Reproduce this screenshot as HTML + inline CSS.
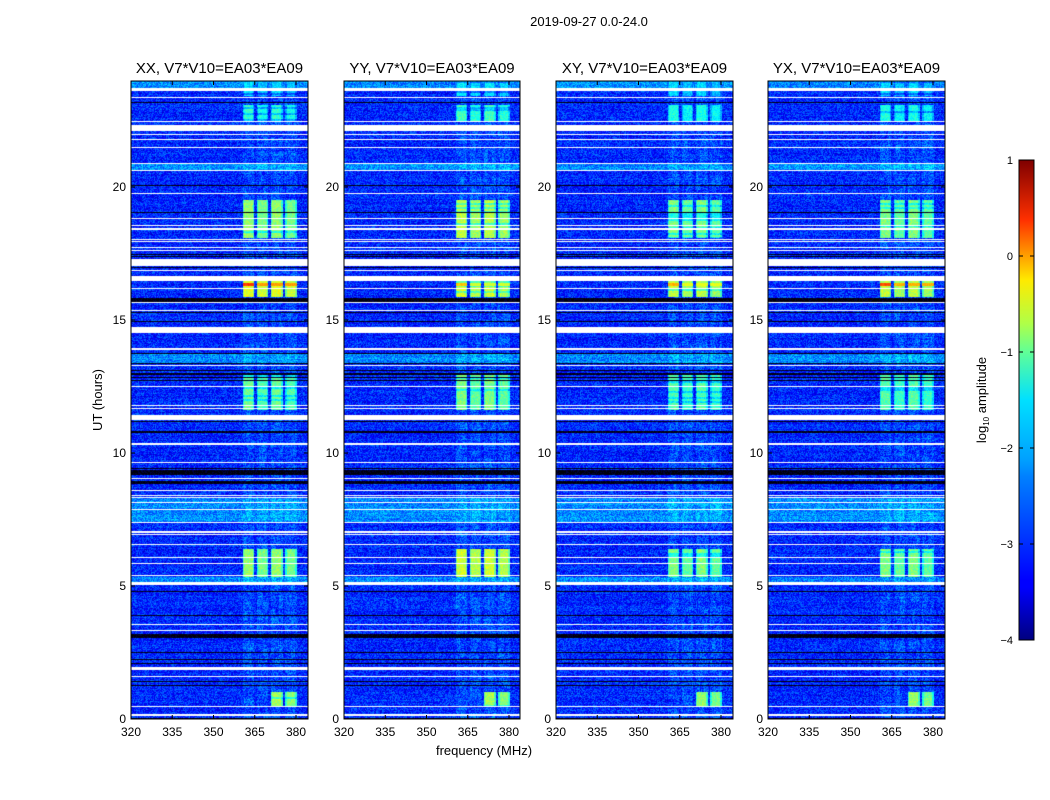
<!DOCTYPE html>
<html><head><meta charset="utf-8"><style>
body{margin:0;background:#fff;width:1050px;height:800px;overflow:hidden;font-family:"Liberation Sans",sans-serif;}
svg{position:absolute;left:0;top:0}
canvas{position:absolute}
</style></head><body>
<canvas id="c0" width="177" height="638" style="left:131px;top:81px"></canvas>
<canvas id="c1" width="176" height="638" style="left:344px;top:81px"></canvas>
<canvas id="c2" width="177" height="638" style="left:556px;top:81px"></canvas>
<canvas id="c3" width="177" height="638" style="left:768px;top:81px"></canvas>
<svg id="s" width="1050" height="800">
<defs><linearGradient id="jet" x1="0" y1="1" x2="0" y2="0">
<stop offset="0" stop-color="#00007f"/><stop offset="0.11" stop-color="#0000ff"/><stop offset="0.125" stop-color="#0000ff"/><stop offset="0.34" stop-color="#0080ff"/><stop offset="0.375" stop-color="#00a0ff"/><stop offset="0.5" stop-color="#00e0ff"/><stop offset="0.6" stop-color="#60ff97"/><stop offset="0.66" stop-color="#b0ff47"/><stop offset="0.75" stop-color="#ffea00"/><stop offset="0.875" stop-color="#ff3000"/><stop offset="1" stop-color="#7f0000"/></linearGradient></defs>
<text x="589" y="26" font-size="13" text-anchor="middle">2019-09-27 0.0-24.0</text>
<text transform="translate(102,400) rotate(-90)" font-size="13" text-anchor="middle">UT (hours)</text>
<text x="484" y="755" font-size="13" text-anchor="middle">frequency (MHz)</text>
<rect x="1019" y="160" width="15" height="480" fill="url(#jet)" stroke="#000"/>
<text transform="translate(986,400) rotate(-90)" font-size="13" text-anchor="middle">log<tspan font-size="8" dy="3">10</tspan><tspan dy="-3"> amplitude</tspan></text>
<g id="g"></g>
</svg>
<script>
// data
const panelTitles=["XX, V7*V10=EA03*EA09","YY, V7*V10=EA03*EA09","XY, V7*V10=EA03*EA09","YX, V7*V10=EA03*EA09"];
const xTicks=[320,335,350,365,380];
const yTicks=[0,5,10,15,20];
const cbTicks=[1,0,-1,-2,-3,-4];
const whiteGaps=[[23.62,23.72],[23.36,23.40],[22.46,22.50],[22.10,22.32],[21.97,22.01],[21.78,21.82],[21.46,21.50],[20.87,20.91],[20.60,20.64],[19.74,19.78],[18.78,18.82],[18.54,18.58],[18.40,18.44],[18.02,18.06],[17.93,17.97],[17.70,17.74],[17.60,17.64],[17.04,17.31],[16.83,16.87],[16.45,16.66],[16.18,16.22],[15.64,15.68],[15.33,15.37],[14.53,14.72],[13.89,13.93],[13.26,13.30],[12.48,12.52],[11.76,11.80],[11.64,11.68],[11.25,11.44],[10.30,10.38],[9.61,9.65],[9.01,9.05],[8.57,8.61],[8.38,8.42],[8.30,8.34],[8.13,8.17],[7.85,7.89],[7.38,7.42],[7.01,7.05],[6.91,6.95],[6.54,6.58],[6.05,6.09],[5.82,5.86],[5.37,5.41],[5.03,5.15],[3.54,3.58],[3.32,3.36],[1.85,1.96],[1.59,1.63],[0.44,0.48],[0.13,0.17],[24.0,24.1]];
const blackGaps=[[23.14,23.18],[20.05,20.09],[19.02,19.06],[17.43,17.47],[17.36,17.40],[16.95,16.99],[15.68,15.81],[15.26,15.30],[14.91,14.97],[13.73,13.77],[13.36,13.40],[13.08,13.12],[12.95,12.99],[12.83,12.87],[12.70,12.74],[11.17,11.21],[10.78,10.82],[10.74,10.78],[9.41,9.45],[9.16,9.37],[8.84,8.93],[4.79,4.83],[3.88,3.92],[3.06,3.21],[2.48,2.52],[2.22,2.26],[2.07,2.11],[1.38,1.42],[1.23,1.27],[0.0,0.05]];
const lightBands=[[23.72,23.98],[20.64,20.87],[13.40,13.73],[7.40,8.29],[5.15,5.34]];
const blockStarts=[360.7,365.8,370.9,376.1];
const blockWidth=4.2;
// [t0, t1, level per panel, which sub-blocks]
const bursts=[[23.42,23.95,[-2.3,-2.2,-2.3,-2.3],[0,1,2,3]],[22.5,23.1,[-1.9,-1.8,-2.0,-2.0],[0,1,2,3]],[18.1,19.5,[-1.4,-1.2,-1.5,-1.5],[0,1,2,3]],[15.85,16.45,[-1.0,-1.1,-1.2,-1.2],[0,1,2,3]],[11.6,12.97,[-1.6,-1.5,-1.7,-1.7],[0,1,2,3]],[5.34,6.4,[-1.4,-1.1,-1.5,-1.5],[0,1,2,3]],[0.48,1.02,[-1.3,-1.3,-1.4,-1.4],[2,3]]];
const hotRow=[16.28,16.40,[0.1,-0.6,-0.5,0.0]];

function jet(v){let x=(v+4)/5;x=Math.max(0,Math.min(1,x));
 const c=t=>Math.round(255*Math.max(0,Math.min(1,t)));
 return [c(1.5-Math.abs(4*x-3)),c(1.5-Math.abs(4*x-2)),c(1.5-Math.abs(4*x-1))];}
function hash(a,b,s){let h=(a*374761393+b*668265263+s*982451653)|0;h=(h^(h>>>13))*1274126177|0;h=h^(h>>>16);return ((h>>>0)%10000)/10000;}
const inR=(arr,t)=>arr.some(r=>t>=r[0]&&t<r[1]);
const yOf=h=>719-h*26.6;
const fOfX=(x)=>320+x/2.75;

for(let p=0;p<4;p++){
 const cv=document.getElementById('c'+p),ctx=cv.getContext('2d');
 const W=cv.width,H=cv.height,img=ctx.createImageData(W,H),d=img.data;
 for(let j=0;j<H;j++){
  const t=(719-(81+j+0.5))/26.6;
  const white=inR(whiteGaps,t),black=inR(blackGaps,t),light=inR(lightBands,t);
  const rowN=hash(j,7,p+11)-0.5;
  for(let i=0;i<W;i++){
   const k=(j*W+i)*4;
   if(white){d[k]=d[k+1]=d[k+2]=255;d[k+3]=255;continue;}
   if(black){d[k]=d[k+1]=0;d[k+2]=hash(i,j,p)<0.3?60:10;d[k+3]=255;continue;}
   const f=fOfX(i+0.5);
   let v=-3.2+(hash(i,j,p)-0.5)*0.8+rowN*0.2;
   if(light)v+=0.5;
   if(f>=360.7&&f<380.5){
    const inb=blockStarts.findIndex(s=>f>=s&&f<s+blockWidth);
    v+= inb>=0?0.25*hash(i>>2,j>>3,p+2)+0.05:0.0;
    for(const b of bursts){
     if(t>=b[0]&&t<b[1]&&inb>=0&&b[3].includes(inb)){
      const edge=Math.min(f-blockStarts[inb],blockStarts[inb]+blockWidth-f);
      v=b[2][p]+(hash(i,j,p+5)-0.5)*0.5-(inb%2)*0.15-(edge<0.5?0.4:0)-(hash(0,j>>1,p+9)<0.15?0.5:0);
     }
    }
    if(t>=hotRow[0]&&t<hotRow[1]&&inb>=0){v=(inb===0?hotRow[2][p]:hotRow[2][p]-0.5)+(hash(i,j,3)-0.5)*0.2;}
   }
   const c=jet(v);d[k]=c[0];d[k+1]=c[1];d[k+2]=c[2];d[k+3]=255;
  }
 }
 ctx.putImageData(img,0,0);
}
// axes
const g=document.getElementById('g'),NS='http://www.w3.org/2000/svg';
function el(tag,a,txt){const e=document.createElementNS(NS,tag);for(const k in a)e.setAttribute(k,a[k]);if(txt!==undefined)e.textContent=txt;g.appendChild(e);return e;}
const lefts=[131,344,556,768],widths=[177,176,177,177];
for(let p=0;p<4;p++){
 const L=lefts[p],Wd=widths[p];
 const fr=el('rect',{x:L,y:81,width:Wd,height:638,fill:'none',stroke:'#000','stroke-width':1});
 
 
 const tt=el('text',{x:L+Wd/2,y:73,'font-size':15,'text-anchor':'middle'},panelTitles[p]);
 
 
 xTicks.forEach(v=>{const x=L+(v-320)*2.75;
  el('line',{x1:x,x2:x,y1:719,y2:715,stroke:'#000'});el('line',{x1:x,x2:x,y1:81,y2:85,stroke:'#000'});
  const t=el('text',{x:x,y:736,'font-size':12,'text-anchor':'middle'},v);
  
  });
 yTicks.forEach(v=>{const y=yOf(v);
  el('line',{x1:L,x2:L+4,y1:y,y2:y,stroke:'#000'});el('line',{x1:L+Wd-4,x2:L+Wd,y1:y,y2:y,stroke:'#000'});
  const t=el('text',{x:L-5,y:y+4,'font-size':12,'text-anchor':'end'},v);
  
  });
}
cbTicks.forEach(v=>{const y=640-(v+4)/5*480;
 el('line',{x1:1019,x2:1023,y1:y,y2:y,stroke:'#000'});el('line',{x1:1030,x2:1034,y1:y,y2:y,stroke:'#000'});
 const t=el('text',{x:1013,y:y+4,'font-size':11,'text-anchor':'end'},v<0?'\u2212'+(-v):v);
 
 });
</script>
</body></html>
